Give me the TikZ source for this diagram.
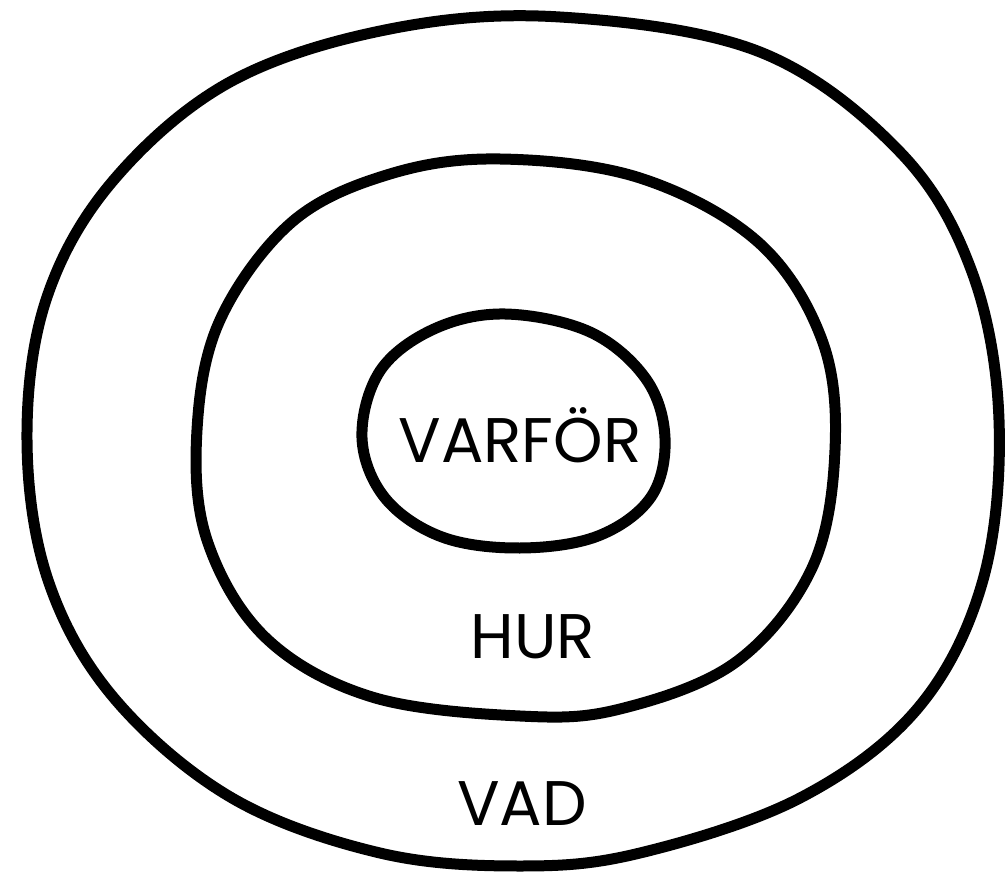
\documentclass[tikz,border=0pt]{standalone}
\usepackage{fontspec}
\setmainfont{Poppins}
\begin{document}
\begin{tikzpicture}[x=1pt,y=-1pt,
  ring/.style={line width=11pt,line join=round,line cap=round},
  lbl/.style={font=\fontsize{63}{63}\selectfont,inner sep=0pt,anchor=base}]
\useasboundingbox (0,0) rectangle (1007,874);
% outer ring
\draw[ring] plot[smooth cycle,tension=0.6] coordinates {
 (560,17) (760,52) (900,152) (972,272) (999,420) (983,580) (918,708) (800,798)
 (640,853) (520,866) (380,853) (232,798) (114,698) (48,580) (27,440) (46,300)
 (112,182) (230,82) (390,29)};
% middle ring
\draw[ring] plot[smooth cycle,tension=0.6] coordinates {
 (500,159) (640,178) (758,242) (822,340) (835,450) (812,568) (736,662) (620,709)
 (520,716) (372,697) (266,638) (207,540) (197,430) (220,320) (292,222) (390,174)};
% inner ring
\draw[ring] plot[smooth cycle,tension=0.6] coordinates {
 (505,314) (590,332) (646,379) (665,438) (651,497) (598,536) (520,548)
 (442,537) (385,498) (362,438) (380,371) (434,329)};
\node[lbl] (varfor) at (520,462) {VARFÖR};
\node[lbl] (hur) at (533,658) {HUR};
\node[lbl] (vad) at (522,825) {VAD};
\end{tikzpicture}
\end{document}
